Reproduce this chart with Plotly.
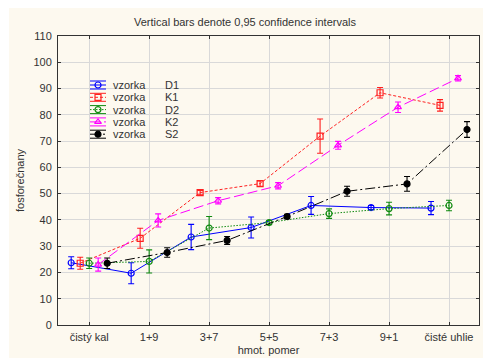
import plotly.graph_objects as go

# ---- data ----
categories = ["čistý kal", "1+9", "3+7", "5+5", "7+3", "9+1", "čisté uhlie"]
series_names = ["D1", "K1", "D2", "K2", "S2"]
D1 = [23.7, 19.7, 33.5, 37.1, 45.5, 44.7, 44.5]
D1_err = [2.3, 4.0, 4.8, 4.0, 3.4, 0.8, 2.5]
K1 = [23.5, 33.0, 50.4, 53.8, 71.9, 88.4, 83.6]
K1_err = [2.3, 3.8, 0.8, 1.0, 6.5, 2.0, 2.2]
D2 = [23.5, 24.2, 36.9, 39.0, 42.4, 44.3, 45.5]
D2_err = [2.0, 4.4, 4.4, 0.8, 1.8, 2.4, 2.0]
K2 = [23.0, 39.8, 47.3, 53.0, 68.4, 82.9, 93.9]
K2_err = [2.5, 2.5, 1.2, 1.2, 1.5, 2.0, 1.0]
S2 = [23.5, 27.6, 32.2, 41.3, 50.9, 53.7, 74.4]
S2_err = [2.0, 1.8, 1.5, 0.8, 1.9, 2.8, 3.0]
y_ticks = list(range(0, 111, 10))

values = {"D1": (D1, D1_err), "K1": (K1, K1_err), "D2": (D2, D2_err),
          "K2": (K2, K2_err), "S2": (S2, S2_err)}

# ---- styles ----
styles = {
    "D1": dict(color="#0000FF", dash="solid", symbol="circle-open", offset=-0.3),
    "K1": dict(color="#FF2020", dash="3px,2px", symbol="square-open", offset=-0.15),
    "D2": dict(color="#108A10", dash="1.5px,1.5px", symbol="circle-open", offset=0.0),
    "K2": dict(color="#FF00FF", dash="10px,4px", symbol="triangle-up-open", offset=0.15),
    "S2": dict(color="#000000", dash="10px,3px,2px,3px", symbol="circle", offset=0.3),
}

W, H = 483, 358
ML, MR, MT, MB = 58, 4, 36, 33
PW, PH = W - ML - MR, H - MT - MB

fig = go.Figure()
for name in series_names:
    v, e = values[name]
    st = styles[name]
    xs = [i + st["offset"] for i in range(len(categories))]
    fig.add_trace(go.Scatter(
        x=xs, y=v, mode="lines+markers", name=name, showlegend=False,
        line=dict(color=st["color"], width=1.0, dash=st["dash"]),
        marker=dict(symbol=st["symbol"], size=6, color=st["color"],
                    line=dict(color=st["color"], width=1.2)),
        error_y=dict(type="data", array=e, visible=True, color=st["color"],
                     thickness=1.1, width=3),
    ))

# ---- custom legend (pixel coordinates on an overlay axis) ----
leg_x0, leg_x1, leg_xm = 90 - ML, 106 - ML, 98 - ML
row0, row_gap = 85 - MT, 12.3
for i, name in enumerate(series_names):
    st = styles[name]
    yc = row0 + i * row_gap
    for dy in (-4, 4):
        fig.add_trace(go.Scatter(x=[leg_x0, leg_x1], y=[yc + dy, yc + dy], mode="lines",
                                 xaxis="x2", yaxis="y2", showlegend=False, hoverinfo="skip",
                                 line=dict(color=st["color"], width=1)))
    fig.add_trace(go.Scatter(x=[leg_x0, leg_xm, leg_x1], y=[yc, yc, yc], mode="lines",
                             xaxis="x2", yaxis="y2", showlegend=False, hoverinfo="skip",
                             line=dict(color=st["color"], width=1.0, dash=st["dash"])))
    fig.add_trace(go.Scatter(x=[leg_xm], y=[yc], mode="markers",
                             xaxis="x2", yaxis="y2", showlegend=False, hoverinfo="skip",
                             marker=dict(symbol=st["symbol"], size=6, color=st["color"],
                                         line=dict(color=st["color"], width=1.2))))
    fig.add_annotation(x=110.5 - ML, y=yc, xref="x2", yref="y2", text="vzorka",
                       showarrow=False, xanchor="left", yanchor="middle",
                       font=dict(size=11, color="#333333"))
    fig.add_annotation(x=163 - ML, y=yc, xref="x2", yref="y2", text=name,
                       showarrow=False, xanchor="left", yanchor="middle",
                       font=dict(size=11, color="#333333"))

# cream background panel
fig.add_shape(type="rect", xref="paper", yref="paper",
              x0=(9 - ML) / PW, x1=(W - ML) / PW + 0.01,
              y0=-(H - MT - PH) / PH - 0.01, y1=(PH + MT - 8) / PH,
              fillcolor="#FDF9EF", line=dict(width=0), layer="below")

fig.update_layout(
    width=W, height=H,
    margin=dict(l=ML, r=MR, t=MT, b=MB),
    paper_bgcolor="white", plot_bgcolor="white",
    font=dict(family="Liberation Sans, Arial, sans-serif", size=11, color="#333333"),
    title=dict(text="Vertical bars denote 0,95 confidence intervals",
               x=(245 - ML) / PW, xref="paper", xanchor="center",
               y=1 - 22 / H, yanchor="middle", font=dict(size=11, color="#333333")),
    xaxis=dict(range=[-0.52, 6.5], tickvals=list(range(len(categories))),
               ticktext=categories, showgrid=True, gridcolor="#D9D9D9", gridwidth=1.3,
               zeroline=False, showline=True, linecolor="#333333", linewidth=1,
               mirror="ticks", ticks="inside", ticklen=3, tickcolor="#333333",
               ticklabelstandoff=2, automargin=False,
               title=dict(text="hmot. pomer", standoff=4, font=dict(size=11)),
               tickfont=dict(size=11), fixedrange=True),
    yaxis=dict(range=[0, 110], tickvals=y_ticks, showgrid=True, gridcolor="#D9D9D9",
               gridwidth=1.3, zeroline=False, showline=True, linecolor="#333333",
               linewidth=1, mirror="ticks", ticks="inside", ticklen=3, tickcolor="#333333",
               ticklabelstandoff=3, automargin=False,
               title=dict(text="fosforečnany", standoff=6, font=dict(size=11)),
               tickfont=dict(size=11), fixedrange=True),
    xaxis2=dict(range=[0, PW], overlaying="x", visible=False, fixedrange=True),
    yaxis2=dict(range=[PH, 0], overlaying="y", visible=False, fixedrange=True),
    showlegend=False,
)

fig.write_html("out.html")
